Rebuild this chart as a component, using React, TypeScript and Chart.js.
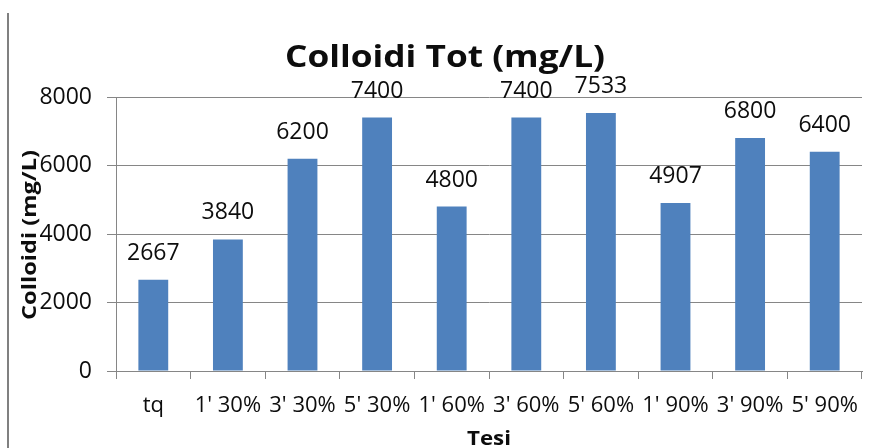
import React, { useEffect, useRef } from "react";
import { Chart, registerables } from "chart.js";

Chart.register(...registerables);

const categories = ["tq", "1' 30%", "3' 30%", "5' 30%", "1' 60%", "3' 60%", "5' 60%", "1' 90%", "3' 90%", "5' 90%"];
const values = [2667, 3840, 6200, 7400, 4800, 7400, 7533, 4907, 6800, 6400];
const yMin = 0;
const yMax = 8000;
const yStep = 2000;
const chartTitle = "Colloidi Tot (mg/L)";
const yTitle = "Colloidi (mg/L)";
const xTitle = "Tesi";

const BAR_COLOR = "#4F81BD";
const GRID_COLOR = "#868686";
const TEXT_COLOR = "#0d0d0d";
const FONT = '"Open Sans", "Liberation Sans", sans-serif';

function drawStretched(
  ctx: CanvasRenderingContext2D,
  text: string,
  cx: number,
  baseline: number,
  font: string,
  targetWidth: number,
  rotate: boolean
) {
  ctx.save();
  ctx.font = font;
  ctx.fillStyle = TEXT_COLOR;
  ctx.textAlign = "center";
  ctx.textBaseline = "alphabetic";
  const w = ctx.measureText(text).width;
  const sx = w > 0 ? targetWidth / w : 1;
  ctx.translate(cx, baseline);
  if (rotate) ctx.rotate(-Math.PI / 2);
  ctx.scale(sx, 1);
  ctx.fillText(text, 0, 0);
  ctx.restore();
}

const overlayPlugin = {
  id: "overlay",
  beforeDraw(chart: any) {
    const ctx = chart.ctx as CanvasRenderingContext2D;
    ctx.save();
    ctx.fillStyle = "#ffffff";
    ctx.fillRect(0, 0, chart.width, chart.height);
    ctx.fillStyle = "#808080";
    ctx.fillRect(7, 13, 2, chart.height - 13);
    ctx.restore();
  },
  afterDatasetsDraw(chart: any) {
    const ctx = chart.ctx as CanvasRenderingContext2D;
    const meta = chart.getDatasetMeta(0);
    ctx.save();
    ctx.font = `23px ${FONT}`;
    ctx.fillStyle = TEXT_COLOR;
    ctx.textAlign = "center";
    ctx.textBaseline = "alphabetic";
    meta.data.forEach((bar: any, i: number) => {
      ctx.fillText(String(values[i]), bar.x, bar.y - 20);
    });
    ctx.restore();
  },
  afterDraw(chart: any) {
    const ctx = chart.ctx as CanvasRenderingContext2D;
    const area = chart.chartArea;
    drawStretched(ctx, chartTitle, 445, 67, `bold 31px ${FONT}`, 320, false);
    drawStretched(ctx, yTitle, 36, 235, `bold 19px ${FONT}`, 170, true);
    drawStretched(ctx, xTitle, (area.left + area.right) / 2, 445, `bold 20px ${FONT}`, 44, false);
  },
};

export default function App() {
  const canvasRef = useRef<HTMLCanvasElement | null>(null);

  useEffect(() => {
    const canvas = canvasRef.current;
    if (!canvas) return;
    const chart = new Chart(canvas, {
      type: "bar",
      data: {
        labels: categories,
        datasets: [
          {
            label: chartTitle,
            data: values,
            backgroundColor: BAR_COLOR,
            borderWidth: 0,
            barPercentage: 0.8,
            categoryPercentage: 0.5,
          },
        ],
      },
      options: {
        responsive: false,
        animation: false,
        devicePixelRatio: 1,
        layout: { padding: { top: 97, right: 13, left: 0, bottom: 0 } },
        plugins: {
          legend: { display: false },
          title: { display: false },
          tooltip: { enabled: false },
        },
        scales: {
          x: {
            grid: {
              drawOnChartArea: false,
              drawTicks: true,
              tickLength: 8,
              color: GRID_COLOR,
              offset: true,
            },
            border: { display: true, color: GRID_COLOR, width: 1 },
            ticks: {
              font: { family: FONT, size: 22 },
              color: TEXT_COLOR,
              padding: 14,
              maxRotation: 0,
              minRotation: 0,
              autoSkip: false,
            },
            afterFit: (scale: any) => {
              scale.height = 77;
            },
          },
          y: {
            min: yMin,
            max: yMax,
            grid: {
              color: GRID_COLOR,
              tickLength: 9,
              drawTicks: true,
            },
            border: { display: true, color: GRID_COLOR, width: 1 },
            ticks: {
              stepSize: yStep,
              font: { family: FONT, size: 23 },
              color: TEXT_COLOR,
              padding: 15,
              callback: (v: any) => String(v),
            },
            afterFit: (scale: any) => {
              scale.width = 116;
            },
          },
        },
      },
      plugins: [overlayPlugin],
    });
    return () => chart.destroy();
  }, []);

  return (
    <div style={{ position: "absolute", left: 0, top: 0, width: 875, height: 448, background: "#fff" }}>
      <canvas ref={canvasRef} width={875} height={448} style={{ display: "block" }} />
    </div>
  );
}
